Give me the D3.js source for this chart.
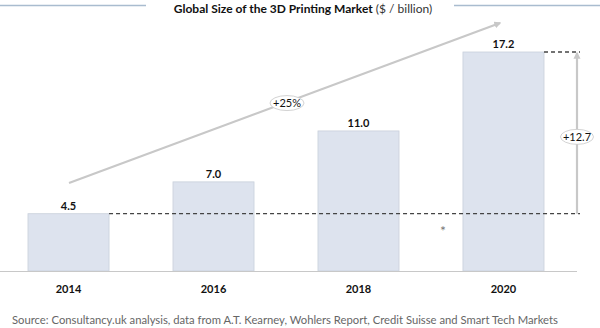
<!DOCTYPE html>
<html><head><meta charset="utf-8">
<script src="https://cdn.jsdelivr.net/npm/d3@7"></script>
<style>body{margin:0;background:#fff}svg{display:block}</style>
</head><body>
<svg id="c" width="600" height="328"></svg>
<script>
const years = ["2014","2016","2018","2020"];
const values = [4.5, 7.0, 11.0, 17.2];
const valueLabels = ["4.5","7.0","11.0","17.2"];
const growthLabel = "+25%";
const diffLabel = "+12.7";
const titleBold = "Global Size of the 3D Printing Market";
const titleNormal = " ($ / billion)";
const source = "Source: Consultancy.uk analysis, data from A.T. Kearney, Wohlers Report, Credit Suisse and Smart Tech Markets";

const svg = d3.select("#c");
const font = "Lato, 'Open Sans', sans-serif";
const x = d3.scaleBand().domain(years).range([0, 572]).paddingInner(0.441).paddingOuter(0.193);
const y = d3.scaleLinear().domain([0, 17.2]).range([271, 52]);

// title
const t = svg.append("text").attr("x", 303).attr("y", 13).attr("text-anchor", "middle")
  .attr("font-family", font).attr("font-size", 12).attr("fill", "#111");
t.append("tspan").attr("font-weight", "bold").text(titleBold);
t.append("tspan").attr("fill", "#333").text(titleNormal);
svg.append("line").attr("x1", 0).attr("x2", 146).attr("y1", 5.5).attr("y2", 5.5).attr("stroke", "#a9bccf").attr("stroke-width", 1.3);
svg.append("line").attr("x1", 454).attr("x2", 600).attr("y1", 5.5).attr("y2", 5.5).attr("stroke", "#a9bccf").attr("stroke-width", 1.3);

// bars
svg.selectAll("rect.bar").data(values).join("rect").attr("class", "bar")
  .attr("x", (d, i) => x(years[i])).attr("width", x.bandwidth())
  .attr("y", d => y(d)).attr("height", d => y(0) - y(d))
  .attr("fill", "#dde3ee").attr("stroke", "#c9d0db").attr("stroke-width", 0.8);

// axis line
svg.append("line").attr("x1", 0).attr("x2", 577).attr("y1", y(0) + 0.5).attr("y2", y(0) + 0.5).attr("stroke", "#c8c8c8").attr("stroke-width", 1);

// value labels
svg.selectAll("text.val").data(values).join("text").attr("class", "val")
  .attr("x", (d, i) => x(years[i]) + x.bandwidth() / 2).attr("y", d => y(d) - 4)
  .attr("text-anchor", "middle").attr("font-family", font).attr("font-weight", "bold")
  .attr("font-size", 11).attr("fill", "#111").text((d, i) => valueLabels[i]);

// year labels
const xAxis = d3.axisBottom(x).tickSize(0).tickPadding(0);
const ax = svg.append("g").attr("transform", `translate(0,${y(0) + 22})`).call(xAxis);
ax.select(".domain").remove();
ax.selectAll("text").attr("font-family", font).attr("font-weight", "bold").attr("font-size", 11).attr("fill", "#111").attr("dy", "0");

// dashed reference lines
const xEnd = 580;
svg.append("line").attr("x1", x(years[0]) + x.bandwidth()).attr("x2", xEnd)
  .attr("y1", y(values[0])).attr("y2", y(values[0]))
  .attr("stroke", "#444").attr("stroke-width", 1.3).attr("stroke-dasharray", "4,3");
svg.append("line").attr("x1", x(years[3]) + x.bandwidth()).attr("x2", xEnd)
  .attr("y1", y(values[3])).attr("y2", y(values[3]))
  .attr("stroke", "#444").attr("stroke-width", 1.3).attr("stroke-dasharray", "4,3");

// defs for arrowheads
const defs = svg.append("defs");
defs.append("marker").attr("id", "ah").attr("viewBox", "0 0 10 10").attr("refX", 8).attr("refY", 5)
  .attr("markerWidth", 3.2).attr("markerHeight", 3.2).attr("orient", "auto")
  .append("path").attr("d", "M0,0 L10,5 L0,10 z").attr("fill", "#c8c8c8");

// vertical arrow
const ax2 = 577;
svg.append("line").attr("x1", ax2).attr("x2", ax2).attr("y1", y(values[0])).attr("y2", y(values[3]) + 1)
  .attr("stroke", "#c8c8c8").attr("stroke-width", 2.2).attr("marker-end", "url(#ah)");
const ey = (y(values[0]) + y(values[3])) / 2 + 4;
svg.append("ellipse").attr("cx", ax2).attr("cy", ey).attr("rx", 16.5).attr("ry", 7.5)
  .attr("fill", "#fff").attr("stroke", "#c8c8c8").attr("stroke-width", 0.8);
svg.append("text").attr("x", ax2).attr("y", ey + 4).attr("text-anchor", "middle")
  .attr("font-family", font).attr("font-size", 11).attr("fill", "#111").text(diffLabel);

// diagonal growth arrow
const p0 = [69, 183], p1 = [500, 23];
svg.append("line").attr("x1", p0[0]).attr("y1", p0[1]).attr("x2", p1[0]).attr("y2", p1[1])
  .attr("stroke", "#c8c8c8").attr("stroke-width", 2.2).attr("marker-end", "url(#ah)");
const gx = 287, gy = p0[1] + (p1[1] - p0[1]) * (gx - p0[0]) / (p1[0] - p0[0]) + 1;
svg.append("ellipse").attr("cx", gx).attr("cy", gy).attr("rx", 17).attr("ry", 7.5)
  .attr("fill", "#fff").attr("stroke", "#c8c8c8").attr("stroke-width", 0.8);
svg.append("text").attr("x", gx).attr("y", gy + 4).attr("text-anchor", "middle")
  .attr("font-family", font).attr("font-size", 11).attr("fill", "#111").text(growthLabel);

// asterisk
svg.append("text").attr("x", 443).attr("y", 236).attr("text-anchor", "middle")
  .attr("font-family", font).attr("font-size", 14).attr("fill", "#777").text("*");

// source
svg.append("text").attr("x", 12).attr("y", 324).attr("font-family", font).attr("font-size", 11.25)
  .attr("fill", "#666").text(source);
</script>
</body></html>
